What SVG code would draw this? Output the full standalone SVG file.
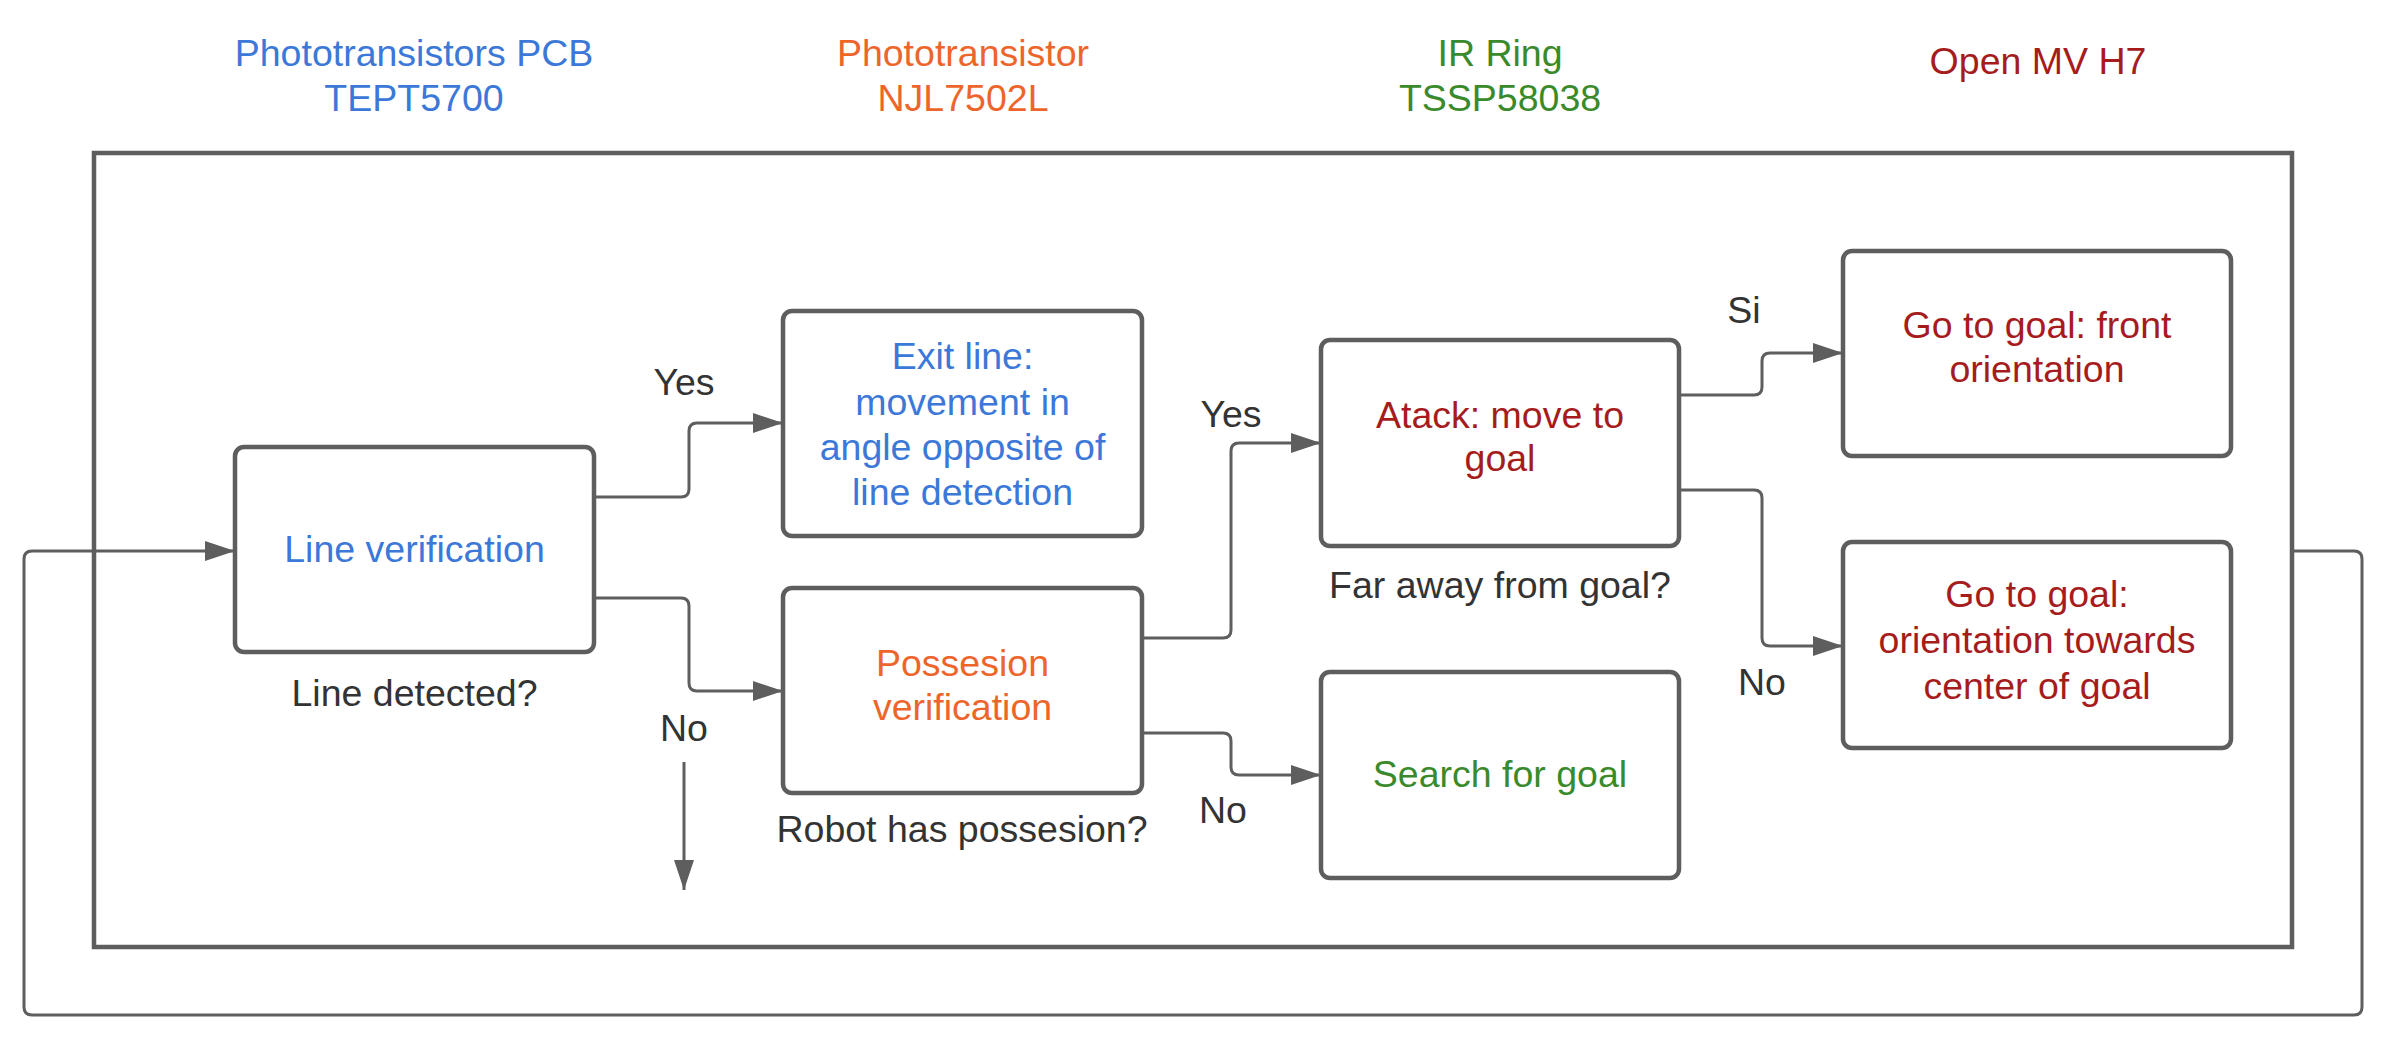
<svg xmlns="http://www.w3.org/2000/svg" width="2394" height="1042" viewBox="0 0 2394 1042">
<style>
text{font-family:"Liberation Sans",Arial,sans-serif;font-size:37.5px;text-anchor:middle}
.box{fill:#fff;stroke:#5e5e5e;stroke-width:4.5}
.frame{fill:none;stroke:#5e5e5e;stroke-width:4.5}
.con{fill:none;stroke:#5e5e5e;stroke-width:3}
.blue{fill:#3c78d8}
.orange{fill:#ee652b}
.green{fill:#3a8a2c}
.red{fill:#a61c1c}
.lbl{fill:#333333}
</style>
<defs>
<marker id="arr" markerUnits="userSpaceOnUse" markerWidth="32" markerHeight="22" refX="30" refY="10" orient="auto">
<path d="M0,0 L30,10 L0,20 z" fill="#5e5e5e"/>
</marker>
</defs>
<rect width="2394" height="1042" fill="#fff"/>
<g id="titles">
<text class="blue" x="414" y="66">Phototransistors PCB</text>
<text class="blue" x="414" y="111">TEPT5700</text>
<text class="orange" x="963" y="66">Phototransistor</text>
<text class="orange" x="963" y="111">NJL7502L</text>
<text class="green" x="1500" y="66">IR Ring</text>
<text class="green" x="1500" y="111">TSSP58038</text>
<text class="red" x="2038" y="74">Open MV H7</text>
</g>
<g id="frame"><rect class="frame" x="94" y="153" width="2198" height="794"/></g>
<g id="connectors">
<path class="con" d="M2292,551 H2354 Q2362,551 2362,559 V1007 Q2362,1015 2354,1015 H32 Q24,1015 24,1007 V559 Q24,551 32,551 H235" marker-end="url(#arr)"/>
<path class="con" d="M594,497 H681 Q689,497 689,489 V431 Q689,423 697,423 H783" marker-end="url(#arr)"/>
<path class="con" d="M594,598 H681 Q689,598 689,606 V683 Q689,691 697,691 H783" marker-end="url(#arr)"/>
<path class="con" d="M684,762 V890" marker-end="url(#arr)"/>
<path class="con" d="M1142,638 H1223 Q1231,638 1231,630 V451 Q1231,443 1239,443 H1321" marker-end="url(#arr)"/>
<path class="con" d="M1142,733 H1223 Q1231,733 1231,741 V767 Q1231,775 1239,775 H1321" marker-end="url(#arr)"/>
<path class="con" d="M1679,395 H1754 Q1762,395 1762,387 V361 Q1762,353 1770,353 H1843" marker-end="url(#arr)"/>
<path class="con" d="M1679,490 H1754 Q1762,490 1762,498 V638 Q1762,646 1770,646 H1843" marker-end="url(#arr)"/>
<text class="lbl" x="684" y="395">Yes</text>
<text class="lbl" x="684" y="741">No</text>
<text class="lbl" x="1231" y="427">Yes</text>
<text class="lbl" x="1223" y="823">No</text>
<text class="lbl" x="1744" y="323">Si</text>
<text class="lbl" x="1762" y="695">No</text>
</g>
<g id="lineVerification">
<rect class="box" x="235" y="447" width="359" height="205" rx="9"/>
<text class="blue" x="414.5" y="562">Line verification</text>
<text class="lbl" x="414.5" y="706">Line detected?</text>
</g>
<g id="exitLine">
<rect class="box" x="783" y="311" width="359" height="225" rx="9"/>
<text class="blue" x="962.5" y="369">Exit line:</text>
<text class="blue" x="962.5" y="415">movement in</text>
<text class="blue" x="962.5" y="460">angle opposite of</text>
<text class="blue" x="962.5" y="505">line detection</text>
</g>
<g id="possesion">
<rect class="box" x="783" y="588" width="359" height="205" rx="9"/>
<text class="orange" x="962.5" y="676">Possesion</text>
<text class="orange" x="962.5" y="720">verification</text>
<text class="lbl" x="962" y="842">Robot has possesion?</text>
</g>
<g id="atack">
<rect class="box" x="1321" y="340" width="358" height="206" rx="9"/>
<text class="red" x="1500" y="428">Atack: move to</text>
<text class="red" x="1500" y="471">goal</text>
<text class="lbl" x="1500" y="598">Far away from goal?</text>
</g>
<g id="search">
<rect class="box" x="1321" y="672" width="358" height="206" rx="9"/>
<text class="green" x="1500" y="787">Search for goal</text>
</g>
<g id="goFront">
<rect class="box" x="1843" y="251" width="388" height="205" rx="9"/>
<text class="red" x="2037" y="338">Go to goal: front</text>
<text class="red" x="2037" y="382">orientation</text>
</g>
<g id="goCenter">
<rect class="box" x="1843" y="542" width="388" height="206" rx="9"/>
<text class="red" x="2037" y="607">Go to goal:</text>
<text class="red" x="2037" y="653">orientation towards</text>
<text class="red" x="2037" y="699">center of goal</text>
</g>
</svg>
